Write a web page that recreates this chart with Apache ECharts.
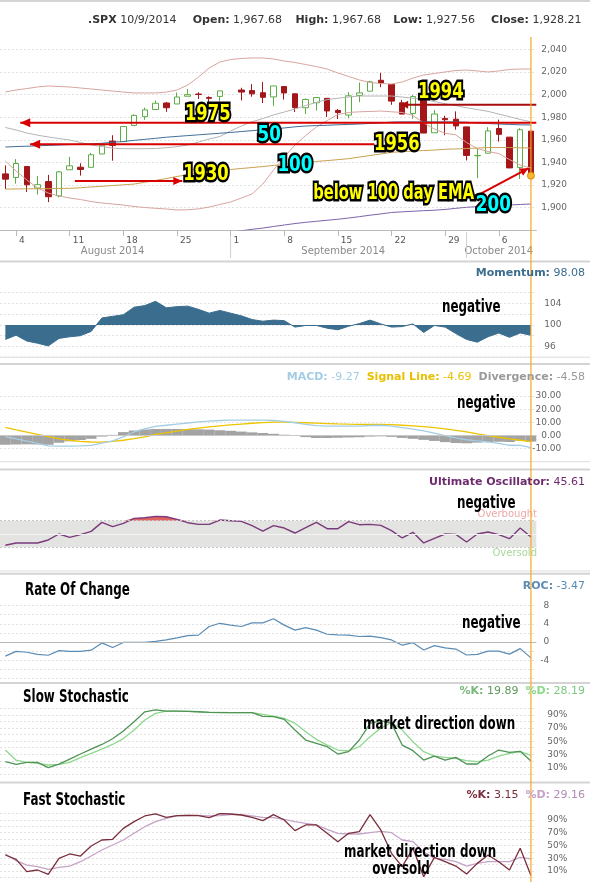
<!DOCTYPE html>
<html><head><meta charset="utf-8">
<script src="https://cdn.jsdelivr.net/npm/echarts@6/dist/echarts.min.js"></script>
<style>html,body{margin:0;padding:0;background:#fff;overflow:hidden}#c{width:590px;height:882px}</style>
</head><body><div id="c"></div>
<script>
// ---------------- DATA ----------------
const dates = ['8/1','8/4','8/5','8/6','8/7','8/8','8/11','8/12','8/13','8/14','8/15','8/18','8/19','8/20','8/21','8/22','8/25','8/26','8/27','8/28','8/29','9/1','9/2','9/3','9/4','9/5','9/8','9/9','9/10','9/11','9/12','9/15','9/16','9/17','9/18','9/19','9/22','9/23','9/24','9/25','9/26','9/29','9/30','10/1','10/2','10/3','10/6','10/7','10/8','10/9'];
const weekStarts = ['8/4','8/11','8/18','8/25','9/1','9/8','9/15','9/22','9/29','10/6'];
const weekLabels = ['4','11','18','25','1','8','15','22','29','6'];
const monthNames = ['August 2014','September 2014','October 2014'];
const monthFirst = ['8/1','9/1','10/1'];
const monthLast = ['8/29','9/30','10/9'];

const open  = [1929.80,1926.62,1936.34,1917.29,1923.03,1910.35,1933.43,1935.73,1935.60,1947.41,1958.87,1958.36,1972.73,1980.46,1986.82,1992.60,1991.74,1998.59,2000.54,1997.42,1998.45,null,2004.07,2003.57,2001.67,1998.00,2007.17,2000.73,1988.41,1992.85,1996.74,1986.04,1981.93,1999.30,2003.07,2012.74,2009.08,1992.78,1983.34,1997.32,1966.22,1978.96,1978.21,1971.44,1945.83,1948.12,1970.01,1962.36,1935.55,1967.68];
const high  = [1937.35,1942.92,1936.34,1927.91,1928.89,1932.38,1944.90,1939.20,1948.41,1955.23,1964.04,1971.99,1982.57,1988.57,1994.76,1993.54,2001.95,2005.04,2002.14,1998.55,2003.38,null,2006.12,2009.28,2011.17,2007.71,2007.17,2001.01,1996.66,1997.65,1996.74,1987.18,2002.28,2010.74,2012.34,2019.26,2009.08,1995.41,1999.79,1997.32,1986.37,1981.28,1985.17,1971.44,1952.32,1971.19,1977.84,1962.36,1970.36,1967.68];
const low   = [1916.37,1921.20,1913.77,1911.45,1904.78,1909.01,1933.43,1928.29,1935.60,1947.41,1941.50,1958.36,1972.73,1977.68,1986.82,1984.76,1991.74,1998.59,1996.20,1990.52,1994.65,null,1994.85,1998.14,1992.54,1990.10,1995.60,1984.61,1982.99,1985.93,1980.26,1978.48,1979.06,1993.29,2003.07,2006.59,1991.01,1982.77,1978.63,1965.99,1966.22,1964.04,1968.96,1941.72,1926.03,1948.12,1958.43,1934.87,1925.25,1927.56];
const close = [1925.15,1938.99,1920.21,1920.24,1909.57,1931.59,1936.92,1933.75,1946.72,1955.18,1955.06,1971.74,1981.60,1986.51,1992.37,1988.40,1997.92,2000.02,2000.12,1996.74,2003.37,null,2002.28,2000.72,1997.65,2007.71,2001.54,1988.44,1995.69,1997.45,1985.54,1984.13,1998.98,2001.57,2011.36,2010.40,1994.29,1982.77,1998.30,1965.99,1982.85,1977.80,1972.29,1946.16,1946.17,1967.90,1964.82,1935.10,1968.89,1928.21];

const bbUpper = [2002.3,2004.1,2005.4,2006.8,2007.7,2007.2,2006.8,2005.9,2005.0,2004.1,2003.2,2002.3,2001.5,2001.5,2001.5,2002.3,2004.1,2008.5,2015.6,2023.6,2028.9,2031.1,2032.0,2032.5,2032.5,2031.6,2029.8,2028.5,2026.7,2024.9,2022.7,2019.2,2016.1,2013.0,2010.8,2009.9,2009.4,2011.2,2014.7,2017.4,2018.7,2020.1,2021.4,2021.8,2021.0,2020.1,2021.0,2022.3,2022.7,2022.7];
const bbMid = [1970.9,1968.7,1966.0,1964.1,1962.5,1961.1,1959.8,1957.6,1955.4,1954.0,1952.7,1952.1,1952.1,1952.1,1952.3,1953.0,1953.9,1955.4,1958.0,1960.7,1962.9,1967.8,1972.2,1976.0,1978.8,1982.0,1984.6,1987.3,1990.4,1993.2,1995.6,1996.8,1997.9,1998.8,1998.8,1998.8,1998.8,1997.9,1996.8,1995.9,1993.9,1992.0,1990.2,1988.4,1986.8,1985.2,1982.8,1980.5,1978.0,1976.0];
const bbLower = [1941.2,1932.3,1924.4,1917.3,1912.8,1910.2,1908.4,1907.1,1905.3,1904.0,1903.1,1902.2,1900.9,1900.0,1899.3,1898.7,1897.8,1898.0,1898.8,1900.4,1902.7,1904.9,1908.4,1912.0,1920.8,1933.2,1944.7,1955.4,1963.8,1971.3,1977.1,1982.4,1984.2,1984.8,1985.1,1985.5,1984.8,1984.2,1981.5,1974.9,1969.6,1965.7,1964.4,1957.6,1952.3,1949.6,1947.8,1942.5,1937.7,1935.0];
const ma50 = [1953.6,1954.0,1954.3,1954.7,1955.0,1955.4,1955.8,1956.1,1956.4,1956.9,1957.8,1958.5,1959.5,1960.4,1961.3,1962.3,1963.0,1963.7,1964.4,1965.1,1965.8,1966.5,1967.3,1968.1,1968.9,1969.7,1970.5,1971.5,1972.2,1972.6,1972.9,1973.3,1973.6,1974.0,1974.5,1975.0,1975.7,1975.9,1975.9,1975.9,1975.9,1975.9,1975.9,1975.6,1974.9,1974.4,1974.0,1973.6,1973.3,1973.1];
const ma100 = [1916.4,1916.4,1916.6,1916.6,1916.7,1916.9,1917.0,1917.5,1918.2,1918.8,1919.5,1920.1,1920.8,1922.4,1924.0,1925.7,1927.5,1929.1,1931.0,1931.9,1932.8,1933.7,1934.6,1935.4,1936.3,1937.3,1938.2,1939.0,1939.9,1940.8,1941.6,1942.4,1943.3,1944.7,1946.1,1947.4,1948.9,1949.4,1950.0,1950.5,1950.9,1951.6,1951.9,1952.3,1952.7,1953.1,1953.2,1953.1,1952.9,1952.7];
const ma200 = [null,null,null,null,null,null,null,null,null,null,null,null,null,null,null,null,null,null,null,null,1877.0,1878.1,1879.4,1880.7,1881.8,1883.2,1884.5,1885.8,1886.9,1887.8,1888.7,1889.6,1890.7,1891.9,1893.2,1894.3,1895.6,1896.2,1896.7,1897.2,1897.6,1898.3,1899.3,1900.2,1900.8,1901.3,1901.8,1902.2,1902.7,1903.1];

const momentum = [97.3,98.1,97.0,96.6,96.1,97.5,97.8,98.0,98.8,101.3,101.6,101.9,103.3,103.6,104.4,103.2,103.4,103.5,102.9,102.2,102.7,102.2,101.7,101.0,100.7,100.9,100.8,99.6,99.9,99.9,99.4,99.1,99.75,100.25,100.9,100.2,99.6,99.7,100.2,98.6,99.9,99.6,98.4,97.3,96.8,97.8,98.5,97.7,98.5,98.08];

const macd = [-0.8,-2.5,-4.2,-6.0,-7.8,-8.0,-8.0,-7.8,-7.4,-5.8,-4.0,-1.0,2.7,5.0,6.9,7.8,8.7,9.5,10.3,11.0,11.4,11.7,11.7,11.7,11.7,11.4,10.8,9.7,8.5,7.5,7.2,7.1,7.1,7.2,7.6,7.8,7.2,6.0,4.8,3.5,1.9,0.0,-1.8,-3.2,-4.1,-4.9,-6.0,-7.4,-7.5,-9.27];
const signal = [6.2,4.3,2.5,0.8,-0.8,-2.5,-3.6,-4.4,-4.9,-5.0,-4.5,-3.6,-2.4,-1.0,0.8,2.0,3.3,4.6,5.6,6.5,7.4,8.1,8.7,9.3,9.8,10.1,10.2,10.0,9.7,9.4,9.1,8.8,8.6,8.5,8.4,8.4,8.2,7.8,7.3,6.8,6.0,5.0,3.9,2.7,1.3,0.0,-1.3,-2.5,-3.6,-4.69];
const divergence = [-7.0,-6.8,-6.7,-6.8,-7.0,-5.5,-4.4,-3.4,-2.5,-0.8,0.5,2.6,3.8,4.6,5.0,5.0,5.0,4.9,4.7,4.5,4.0,3.6,3.0,2.4,1.9,1.3,0.6,-0.3,-1.2,-1.9,-1.9,-1.7,-1.5,-1.3,-0.8,-0.6,-1.0,-1.8,-2.5,-3.3,-4.1,-5.0,-5.7,-5.9,-5.4,-4.9,-4.7,-4.9,-3.9,-4.58];

const ultimate = [33,36.5,36.5,36.5,41,50,45,49,54,67.5,61,66,73.5,74.5,76.5,76,72,67,64.5,64.5,71,70,69,62.5,54.5,62.5,59,51.5,59.5,67.5,58,58,68.5,64,64.5,63,55,44,52.5,36.5,43.5,50,49.5,38,50,53,49,43,59,45.61];

const roc = [-3.1,-2.05,-2.25,-2.7,-2.9,-1.9,-2.05,-2.05,-1.8,-0.2,-1.2,-0.1,-0.1,-0.1,0.15,0.45,0.9,1.4,1.5,3.4,4.1,3.7,3.4,4.2,4.2,5.1,3.7,2.6,3.15,2.6,1.7,1.55,1.5,1.2,1.3,0.95,0.45,-0.7,-0.15,-1.75,-0.8,-1.3,-1.55,-2.85,-2.7,-2.0,-2.0,-2.65,-1.45,-3.47];

const slowK = [18.7,14.6,17.6,17.6,9.5,15,22.7,30.4,38,45,53.8,65.5,79.8,95,98,96,96,95.6,95,94,93.6,93.6,93.6,93.6,88,87.5,83.4,67,51.8,46.7,41.6,30.4,34,51.8,77.3,81.3,77.3,44.1,35.5,21.2,27.3,21.2,25.3,15.1,15.1,27.3,36.5,32.9,34.5,19.89];
const slowD = [36.5,21,17.6,16,13.6,14.6,17.6,24.8,31.4,38,45,54,67,82.4,92.5,96,96,95.6,95,94,94,93.6,93.6,93.6,91,88.5,85,77.3,64.5,52.8,44.1,36.5,35,41.6,56.9,70,78.6,67,49.2,34,27.3,25.3,23.8,20.2,18.7,21.2,27.3,31.4,34,28.19];
const fastK = [35.1,28.3,9,11.6,4.8,29.9,36.7,33.5,49.2,58.6,59.7,76.9,87.4,96.3,99.4,94.2,96.8,97.3,96.8,93.7,100,99.4,97.8,94.2,89,98.4,90,73.3,82.2,82.2,69.1,56,69.1,71.7,98.4,74.3,37.7,16.8,45.6,1.1,31.4,24.6,17.8,5.3,22,35.1,24.6,11.6,45.6,3.15];
const fastD = [36.7,26.2,19.4,16.8,12.6,15.8,17.8,24.6,33.5,42.9,50.8,58.6,69.1,79.5,87.4,92.6,96.3,97.3,97.3,96.3,96.8,98.4,98.4,96.3,94.2,93.7,91,87.4,84.8,82.2,75.4,69.1,68,68,70.1,72.2,70.1,58.6,56,40.3,29.9,28.3,24.6,17.8,22,24.6,24.6,24.6,31.4,29.16];

const levelLines = [1975, 1956, 1991, 1923.5];
const header = {sym: '.SPX', date: '10/9/2014', open: '1,967.68', high: '1,967.68', low: '1,927.56', close: '1,928.21'};

// --------------- CHART ----------------
const chart = echarts.init(document.getElementById('c'), null, {renderer: 'canvas'});
const GL = -3.7, GW = 540;
const fmtComma = v => String(v).replace(/\B(?=(\d{3})+(?!\d))/g, ',');
const AX = {fontFamily: 'DejaVu Sans', fontSize: 9, color: '#666'};
const BOLDF = '"DejaVu Sans",sans-serif';

const grids = [
  {left: GL, width: GW, top: 49.5, height: 180.6},
  {left: GL, width: GW, top: 292.7, height: 64.5},
  {left: GL, width: GW, top: 396, height: 52.7},
  {left: GL, width: GW, top: 500.75, height: 66.5},
  {left: GL, width: GW, top: 605.5, height: 73},
  {left: GL, width: GW, top: 708.5, height: 65.4},
  {left: GL, width: GW, top: 813.6, height: 63.8}
];
const xAxes = grids.map((g, i) => ({
  type: 'category', gridIndex: i, data: dates, boundaryGap: true,
  axisLine: {show: i === 0, lineStyle: {color: '#bbb'}},
  axisTick: {show: i === 0, alignWithLabel: true, length: 6, lineStyle: {color: '#bbb'},
    interval: (idx, val) => weekStarts.indexOf(val) >= 0},
  axisLabel: {show: i === 0, ...AX, color: '#555', align: 'left', padding: [0, 0, 0, 3], margin: 6,
    interval: (idx, val) => weekStarts.indexOf(val) >= 0,
    formatter: v => weekLabels[weekStarts.indexOf(v)] || ''},
  splitLine: {show: false}
}));
const dotted = {show: true, lineStyle: {color: '#e2e2e2', type: [2, 2], width: 1}};
const yAxes = [
  {type: 'value', gridIndex: 0, position: 'right', min: 1880, max: 2040, interval: 20,
    axisLine: {show: false}, axisTick: {show: false}, splitLine: dotted,
    axisLabel: {...AX, margin: 5, formatter: v => v < 1890 ? '' : fmtComma(v)}},
  {type: 'value', gridIndex: 1, position: 'right', min: 94, max: 106, interval: 2,
    axisLine: {show: false}, axisTick: {show: false}, splitLine: dotted,
    axisLabel: {...AX, margin: 8, formatter: v => (v % 4 === 0 ? String(v) : '')}},
  {type: 'value', gridIndex: 2, position: 'right', min: -10, max: 30, interval: 10,
    axisLine: {show: false}, axisTick: {show: false}, splitLine: dotted,
    axisLabel: {...AX, margin: 25, align: 'right', formatter: v => v.toFixed(2)}},
  {type: 'value', gridIndex: 3, position: 'right', min: 0, max: 100,
    axisLine: {show: false}, axisTick: {show: false}, splitLine: {show: false}, axisLabel: {show: false}},
  {type: 'value', gridIndex: 4, position: 'right', min: -8, max: 8, interval: 2,
    axisLine: {show: false}, axisTick: {show: false}, splitLine: dotted,
    axisLabel: {...AX, margin: 13, align: 'right', formatter: v => (v % 4 === 0 && v > -8 ? String(v) : '')}},
  {type: 'value', gridIndex: 5, position: 'right', min: 0, max: 100, interval: 10,
    axisLine: {show: false}, axisTick: {show: false}, splitLine: dotted,
    axisLabel: {...AX, margin: 11, formatter: v => (v % 20 === 10 ? v + '%' : '')}},
  {type: 'value', gridIndex: 6, position: 'right', min: 0, max: 100, interval: 10,
    axisLine: {show: false}, axisTick: {show: false}, splitLine: dotted,
    axisLabel: {...AX, margin: 11, formatter: v => (v % 20 === 10 ? v + '%' : '')}}
];

const line = (data, gi, color, extra) => Object.assign({
  type: 'line', data, xAxisIndex: gi, yAxisIndex: gi, symbol: 'none', smooth: false,
  lineStyle: {color, width: 1}, silent: true, animation: false, connectNulls: false
}, extra || {});

const candleData = dates.map((d, i) => open[i] == null ? ['-', '-', '-', '-'] : [open[i], close[i], low[i], high[i]]);

const series = [
  line(bbUpper, 0, '#d8a49e'),
  line(bbLower, 0, '#d8a49e'),
  line(bbMid, 0, '#b4b4b4'),
  line(ma50, 0, '#3e6f98'),
  line(ma100, 0, '#c9a050'),
  line(ma200, 0, '#7c64aa'),
  {type: 'candlestick', data: candleData, xAxisIndex: 0, yAxisIndex: 0, barWidth: 6, animation: false, silent: true,
    itemStyle: {color: '#ffffff', color0: '#a3161a', borderColor: '#5cad45', borderColor0: '#a3161a', borderWidth: 1}},
  line(momentum, 1, '#3b6d8e', {areaStyle: {origin: 100, color: '#3b6d8e', opacity: 1}}),
  {type: 'bar', data: divergence, xAxisIndex: 2, yAxisIndex: 2, barCategoryGap: '0%', itemStyle: {color: '#a3a3a3'}, silent: true, animation: false,
    markLine: {silent: true, symbol: 'none', label: {show: false}, lineStyle: {color: '#c8c8c8', type: 'solid', width: 1}, data: [{yAxis: 0}]}},
  line(signal, 2, '#ecc400', {lineStyle: {color: '#ecc400', width: 1.3}}),
  line(macd, 2, '#a4cde4', {lineStyle: {color: '#a4cde4', width: 1.3}}),
  line(ultimate.map(v => Math.max(v, 70)), 3, '#d9534f', {lineStyle: {opacity: 0}, areaStyle: {origin: 70, color: '#d9534f', opacity: 0.9},
    markArea: {silent: true, itemStyle: {color: '#e3e3e1'}, data: [[{yAxis: 30}, {yAxis: 70}]]},
    markLine: {silent: true, symbol: 'none', label: {show: false}, data: [
      {yAxis: 70, lineStyle: {color: '#c8c8c8', type: [2, 2], width: 1}},
      {yAxis: 50, lineStyle: {color: '#f4f4f4', type: 'solid', width: 1}},
      {yAxis: 30, lineStyle: {color: '#c8c8c8', type: [2, 2], width: 1}}]}}),
  line(ultimate, 3, '#7b3a7c', {lineStyle: {color: '#7b3a7c', width: 1.4}}),
  line(roc, 4, '#5b8cb4', {lineStyle: {color: '#5b8cb4', width: 1.2},
    markLine: {silent: true, symbol: 'none', label: {show: false}, lineStyle: {color: '#b8b8b8', type: 'solid', width: 1.2}, data: [{yAxis: 0}]}}),
  line(slowD, 5, '#8ed88e', {lineStyle: {color: '#8ed88e', width: 1.3}}),
  line(slowK, 5, '#4f9355', {lineStyle: {color: '#4f9355', width: 1.3}}),
  line(fastD, 6, '#c6a3c8', {lineStyle: {color: '#c6a3c8', width: 1.3}}),
  line(fastK, 6, '#7a2e3c', {lineStyle: {color: '#7a2e3c', width: 1.3}})
];

chart.setOption({animation: false, grid: grids, xAxis: xAxes, yAxis: yAxes, series});

// --------------- ANNOTATIONS ----------------
const P = (fi, v, gi) => {
  gi = gi || 0;
  const a = chart.convertToPixel({gridIndex: gi}, [0, v]);
  const b = chart.convertToPixel({gridIndex: gi}, [1, v]);
  return [a[0] + (b[0] - a[0]) * fi, a[1]];
};
const G = [];
const hline = (y, x1, x2, color, w) => G.push({type: 'line', silent: true, z: 50, shape: {x1, y1: y, x2, y2: y}, style: {stroke: color, lineWidth: w}});
[[1, 2], [261.5, 2], [364, 2], [469.5, 2], [573.8, 2], [683, 2], [782.5, 2]].forEach(([y, w]) => hline(y, 0, 590, '#d4d4d4', w));
[[357.2, 1], [461.7, 1], [571, 1]].forEach(([y, w]) => hline(y, 0, 590, '#dcdcdc', w));

function arrow(p1, p2, color, w, head, half) {
  G.push({type: 'line', silent: true, z: 60, shape: {x1: p1[0], y1: p1[1], x2: p2[0], y2: p2[1]}, style: {stroke: color, lineWidth: w}});
  const dx = p2[0] - p1[0], dy = p2[1] - p1[1], L = Math.hypot(dx, dy), ux = dx / L, uy = dy / L;
  const bx = p2[0] - ux * head, by = p2[1] - uy * head;
  G.push({type: 'polygon', silent: true, z: 61, shape: {points: [[p2[0], p2[1]], [bx - uy * half, by + ux * half], [bx + uy * half, by - ux * half]]}, style: {fill: color}});
}
const RED = '#d80000', DRED = '#a80c0c';
arrow(P(49.5, levelLines[0]), P(1.39, levelLines[0]), RED, 2, 10, 4.5);
arrow(P(34.4, levelLines[1]), P(2.31, levelLines[1]), RED, 2, 10, 4.5);
arrow(P(49.5, levelLines[2]), P(36.9, levelLines[2]), DRED, 2, 7, 4);
arrow(P(6.48, levelLines[3]), P(16.5, levelLines[3]), RED, 2, 9, 4);
arrow(P(43.8, 1909.6), P(48.75, 1934.7), RED, 2, 8, 4);

function tag(txt, fi, v, fill, size, sx) {
  const p = P(fi, v);
  G.push({type: 'text', silent: true, z: 80, x: p[0], y: p[1], scaleX: sx, style: {text: txt, fill, stroke: '#000', lineWidth: 5, strokeFirst: true,
    font: 'bold ' + size + 'px ' + BOLDF, align: 'center', verticalAlign: 'middle'}});
}
tag('1975', 18.87, 1982.8, '#ffff00', 21, 0.78);
tag('1930', 18.7, 1928.8, '#ffff00', 21, 0.78);
tag('1956', 36.5, 1955.4, '#ffff00', 21, 0.78);
tag('1994', 40.6, 2001.7, '#ffff00', 21, 0.78);
tag('below 100 day EMA', 36.2, 1912, '#ffff00', 21, 0.7);
tag('50', 24.6, 1964.2, '#00ffff', 21, 0.8);
tag('100', 27, 1936.8, '#00ffff', 21, 0.8);
tag('200', 45.5, 1901.6, '#00ffff', 21, 0.8);

const lastIdx = dates.length - 1;
const ox = P(lastIdx, 0)[0];
G.push({type: 'line', silent: true, z: 70, shape: {x1: ox, y1: 37, x2: ox, y2: 882}, style: {stroke: '#f5a623', lineWidth: 1.2}});
const lc = P(lastIdx, close[lastIdx]);
G.push({type: 'circle', silent: true, z: 71, shape: {cx: lc[0], cy: lc[1], r: 3.5}, style: {fill: '#f7b733', stroke: '#e08a00', lineWidth: 1}});

monthNames.forEach((m, k) => {
  const a = P(dates.indexOf(monthFirst[k]), 1880), b = P(dates.indexOf(monthLast[k]), 1880);
  G.push({type: 'text', silent: true, x: (a[0] + b[0]) / 2, y: 251, style: {text: m, fill: '#8a8a8a', font: '10px "DejaVu Sans"', align: 'center', verticalAlign: 'middle'}});
  if (k > 0) G.push({type: 'line', silent: true, shape: {x1: a[0], y1: 232, x2: a[0], y2: 258}, style: {stroke: '#cfcfcf', lineWidth: 1}});
});

const HF = '11px "DejaVu Sans"';
const hdr = (x, y, text, rich, align) => G.push({type: 'text', silent: true, z: 90, x, y, style: {text, rich, font: HF, fill: '#333', align: align || 'left', verticalAlign: 'middle'}});
const B = {font: 'bold 11px "DejaVu Sans"', fill: '#333'};
hdr(88, 20, '{b|' + header.sym + '} ' + header.date, {b: B});
hdr(192.7, 20, '{b|Open:} ' + header.open, {b: B});
hdr(295.4, 20, '{b|High:} ' + header.high, {b: B});
hdr(393.3, 20, '{b|Low:} ' + header.low, {b: B});
hdr(491.1, 20, '{b|Close:} ' + header.close, {b: B});

const rb = (c) => ({font: 'bold 11px "DejaVu Sans"', fill: c});
const rn = (c) => ({font: '11px "DejaVu Sans"', fill: c});
const fmt2 = v => v.toFixed(2);
const RX = 585;
hdr(RX, 273.5, '{a|Momentum:} {b|' + fmt2(momentum[lastIdx]) + '}', {a: rb('#3b6d8e'), b: rn('#3b6d8e')}, 'right');
hdr(RX, 377.5, '{a|MACD:} {b|' + fmt2(macd[lastIdx]) + '}  {c|Signal Line:} {d|' + fmt2(signal[lastIdx]) + '}  {e|Divergence:} {f|' + fmt2(divergence[lastIdx]) + '}',
  {a: rb('#a4cde4'), b: rn('#a4cde4'), c: rb('#e8c000'), d: rn('#e8c000'), e: rb('#9a9a9a'), f: rn('#9a9a9a')}, 'right');
hdr(RX, 481.7, '{a|Ultimate Oscillator:} {b|' + fmt2(ultimate[lastIdx]) + '}', {a: rb('#6e2a6e'), b: rn('#6e2a6e')}, 'right');
hdr(RX, 586, '{a|ROC:} {b|' + fmt2(roc[lastIdx]) + '}', {a: rb('#5b8cb4'), b: rn('#5b8cb4')}, 'right');
hdr(RX, 690.7, '{a|%K:} {b|' + fmt2(slowK[lastIdx]) + '}  {c|%D:} {d|' + fmt2(slowD[lastIdx]) + '}', {a: rb('#78b878'), b: rn('#5d9a5d'), c: rb('#8ed88e'), d: rn('#7cc87c')}, 'right');
hdr(RX, 795, '{a|%K:} {b|' + fmt2(fastK[lastIdx]) + '}  {c|%D:} {d|' + fmt2(fastD[lastIdx]) + '}', {a: rb('#7a2e3c'), b: rn('#7a2e3c'), c: rb('#c6a3c8'), d: rn('#b08ab4')}, 'right');

G.push({type: 'text', silent: true, x: 537, y: 514, style: {text: 'Overbought', fill: '#eea8a8', font: '10px "DejaVu Sans"', align: 'right', verticalAlign: 'middle'}});
G.push({type: 'text', silent: true, x: 537, y: 553, style: {text: 'Oversold', fill: '#a8d89a', font: '10px "DejaVu Sans"', align: 'right', verticalAlign: 'middle'}});

const note = (x, y, t, align) => G.push({type: 'text', silent: true, z: 95, x, y, scaleX: 0.7, style: {text: t, fill: '#000', font: 'bold 17px ' + BOLDF, align: align || 'left', verticalAlign: 'middle'}});
note(442, 307.5, 'negative');
note(457, 403.5, 'negative');
note(457, 504, 'negative');
note(462, 623.5, 'negative');
note(25, 591, 'Rate Of Change');
note(23, 697.5, 'Slow Stochastic');
note(363, 725, 'market direction down');
note(23, 801, 'Fast Stochastic');
note(344, 853, 'market direction down');
note(401, 870, 'oversold', 'center');

chart.setOption({graphic: G});
</script></body></html>
